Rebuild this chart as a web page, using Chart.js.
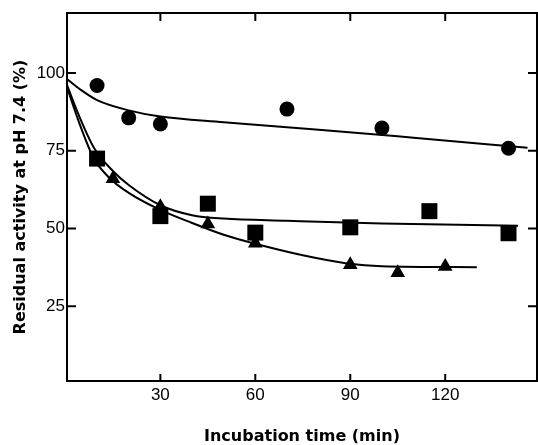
<!DOCTYPE html>
<html>
<head>
<meta charset="utf-8">
<script src="https://cdn.jsdelivr.net/npm/chart.js@4.4.1/dist/chart.umd.min.js"></script>
<style>
  html, body { margin: 0; padding: 0; background: #fff; }
</style>
</head>
<body>
<canvas id="chart" width="538" height="445"></canvas>
<script>
// measured points, time (min) vs residual activity (%)
const circleTime = [10, 20, 30, 70, 100, 140];
const circleActivity = [96, 85.6, 83.6, 88.4, 82.3, 75.8];

const squareTime = [10, 30, 45, 60, 90, 115, 140];
const squareActivity = [72.5, 54, 58, 48.7, 50.4, 55.6, 48.5];

const triangleTime = [15, 30, 45, 60, 90, 105, 120];
const triangleActivity = [66, 57, 51.5, 45.3, 38.4, 35.8, 37.8];

// fitted curves
const circleFitTime = [0, 5, 10, 20, 30, 50, 80, 110, 146];
const circleFitActivity = [98.5, 94.5, 91.3, 88, 86, 84.2, 81.8, 79.2, 76];

const squareFitTime = [0, 4, 9, 15, 20, 30, 40, 50, 70, 100, 143];
const squareFitActivity = [97.5, 87, 76, 68.5, 64, 57.5, 54.3, 53.2, 52.5, 51.6, 50.9];

const triangleFitTime = [0, 4, 9, 14, 20, 30, 40, 50, 60, 75, 89, 100, 130];
const triangleFitActivity = [97, 85, 72.5, 66.2, 61.5, 56, 51.8, 48, 45.1, 41.4, 38.8, 37.9, 37.6];

const xTicks = [30, 60, 90, 120];
const yTicks = [25, 50, 75, 100];

function toPoints(xs, ys) {
    return xs.map((x, i) => ({ x: x, y: ys[i] }));
}

// frame round the plot and short inward ticks on all four sides
const frame = {
    id: 'frame',
    afterDraw(chart) {
        const { ctx, chartArea: a, scales } = chart;
        ctx.save();
        ctx.strokeStyle = '#000';
        ctx.lineWidth = 2;
        ctx.strokeRect(a.left, a.top, a.right - a.left, a.bottom - a.top);
        ctx.beginPath();
        xTicks.forEach(v => {
            const px = scales.x.getPixelForValue(v);
            ctx.moveTo(px, a.bottom); ctx.lineTo(px, a.bottom - 7);
            ctx.moveTo(px, a.top); ctx.lineTo(px, a.top + 8);
        });
        yTicks.forEach(v => {
            const py = scales.y.getPixelForValue(v);
            ctx.moveTo(a.left, py); ctx.lineTo(a.left + 9, py);
            ctx.moveTo(a.right, py); ctx.lineTo(a.right - 9, py);
        });
        ctx.stroke();
        ctx.restore();
    }
};

const lineStyle = {
    type: 'line',
    borderColor: '#000',
    borderWidth: 2,
    pointRadius: 0,
    fill: false,
    cubicInterpolationMode: 'monotone',
    order: 1
};
const markStyle = {
    type: 'scatter',
    backgroundColor: '#000',
    borderColor: '#000',
    borderWidth: 0,
    order: 0
};

new Chart(document.getElementById('chart').getContext('2d'), {
    data: {
        datasets: [
            { ...lineStyle, data: toPoints(circleFitTime, circleFitActivity) },
            { ...lineStyle, data: toPoints(squareFitTime, squareFitActivity) },
            { ...lineStyle, data: toPoints(triangleFitTime, triangleFitActivity) },
            { ...markStyle, data: toPoints(circleTime, circleActivity), pointStyle: 'circle', pointRadius: 7.5 },
            { ...markStyle, data: toPoints(squareTime, squareActivity), pointStyle: 'rect', pointRadius: 11.3 },
            { ...markStyle, data: toPoints(triangleTime, triangleActivity), pointStyle: 'triangle', pointRadius: 8.5 }
        ]
    },
    options: {
        responsive: false,
        animation: false,
        devicePixelRatio: 1,
        layout: { autoPadding: false, padding: { top: 13, right: 1 } },
        plugins: { legend: { display: false }, tooltip: { enabled: false } },
        scales: {
            x: {
                type: 'linear',
                min: 0.5,
                max: 149,
                afterBuildTicks: s => { s.ticks = xTicks.map(v => ({ value: v })); },
                afterFit: s => { s.height = 64; s.paddingLeft = 0; s.paddingRight = 0; },
                grid: { display: false, drawTicks: false },
                border: { display: false },
                ticks: {
                    color: '#000',
                    padding: 4,
                    font: { family: 'Liberation Sans', size: 17 }
                },
                title: {
                    display: true,
                    text: 'Incubation time (min)',
                    color: '#000',
                    padding: { top: 0, bottom: 0 },
                    font: { family: 'DejaVu Sans', size: 16, weight: 'bold', lineHeight: 1 }
                }
            },
            y: {
                type: 'linear',
                min: 1,
                max: 119.3,
                afterBuildTicks: s => { s.ticks = yTicks.map(v => ({ value: v })); },
                afterFit: s => { s.width = 67; s.paddingTop = 0; s.paddingBottom = 0; },
                grid: { display: false, drawTicks: false },
                border: { display: false },
                ticks: {
                    color: '#000',
                    padding: 2,
                    font: { family: 'Liberation Sans', size: 17 }
                },
                title: {
                    display: true,
                    text: 'Residual activity at pH 7.4 (%)',
                    color: '#000',
                    padding: { top: 13, bottom: 0 },
                    font: { family: 'DejaVu Sans', size: 16, weight: 'bold', lineHeight: 1 }
                }
            }
        }
    },
    plugins: [frame]
});
</script>
</body>
</html>
